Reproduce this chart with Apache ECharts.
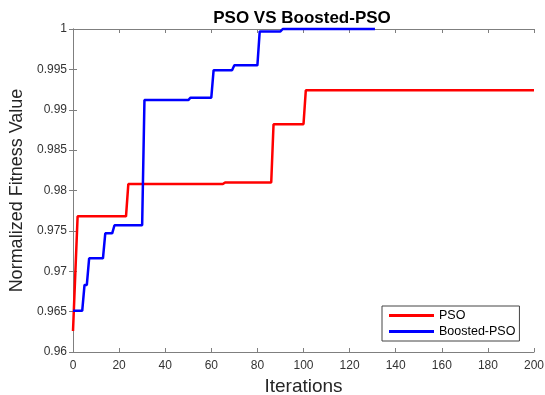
<!DOCTYPE html>
<html>
<head>
<meta charset="utf-8">
<script src="https://cdn.jsdelivr.net/npm/echarts@6/dist/echarts.min.js"></script>
<style>
  html, body { margin: 0; padding: 0; background: #fff; }
  #chart { width: 545px; height: 395px; }
</style>
</head>
<body>
<div id="chart"></div>
<script>
// step points: [iteration, normalized fitness]
const psoPoints = [
  [0, 0.9626], [2, 0.9768], [23, 0.9768], [24, 0.9808], [65, 0.9808],
  [66, 0.981], [86, 0.981], [87, 0.9882], [100, 0.9882], [101, 0.9924],
  [200, 0.9924]
];
const boostedPoints = [
  [0, 0.9651], [4, 0.9651], [5, 0.9683], [6, 0.9683], [7, 0.9716],
  [13, 0.9716], [14, 0.9747], [17, 0.9747], [18, 0.9757], [30, 0.9757],
  [31, 0.9912], [50, 0.9912], [51, 0.9915], [60, 0.9915], [61, 0.9949],
  [69, 0.9949], [70, 0.9955], [80, 0.9955], [81, 0.9997], [90, 0.9997],
  [91, 1.0], [131, 1.0]
];
const seriesNames = ["PSO", "Boosted-PSO"];

const chart = echarts.init(document.getElementById("chart"));

const axisGray = "#7f7f7f";
const font = "Liberation Sans, Arial, sans-serif";

chart.setOption({
  animation: false,
  title: {
    text: "PSO VS Boosted-PSO",
    left: 297,
    textAlign: "center",
    top: 5,
    textStyle: { fontFamily: font, fontSize: 17, fontWeight: "bold", color: "#000" }
  },
  grid: { left: 73, right: 11, top: 29, bottom: 43, outerBoundsMode: "none" },
  legend: {
    data: seriesNames,
    orient: "vertical",
    left: 382,
    top: 306,
    icon: "rect",
    itemWidth: 45,
    itemHeight: 3,
    itemGap: 3,
    padding: [3, 4, 3, 7],
    borderColor: "#444",
    borderWidth: 1,
    backgroundColor: "#fff",
    textStyle: { fontFamily: font, fontSize: 12.5, color: "#000" }
  },
  xAxis: [
    {
      type: "value",
      min: 0, max: 200, interval: 20,
      name: "Iterations",
      nameLocation: "middle",
      nameGap: 21,
      nameTextStyle: { fontFamily: font, fontSize: 19, color: "#262626" },
      axisLine: { lineStyle: { color: axisGray } },
      axisTick: { inside: true, length: 4, lineStyle: { color: axisGray } },
      axisLabel: { fontFamily: font, fontSize: 12, color: "#333", margin: 8 },
      splitLine: { show: false }
    },
    {
      type: "value", position: "top",
      min: 0, max: 200, interval: 20,
      axisLine: { show: true, lineStyle: { color: axisGray } },
      axisTick: { inside: true, length: 4, lineStyle: { color: axisGray } },
      axisLabel: { show: false },
      splitLine: { show: false }
    }
  ],
  yAxis: [
    {
      type: "value",
      min: 0.96, max: 1, interval: 0.005,
      name: "Normalized Fitness Value",
      nameLocation: "middle",
      nameGap: 40,
      nameTextStyle: { fontFamily: font, fontSize: 18, color: "#262626" },
      axisLine: { show: true, lineStyle: { color: axisGray } },
      axisTick: { show: true, inside: true, length: 4, lineStyle: { color: axisGray } },
      axisLabel: {
        fontFamily: font, fontSize: 12, color: "#333", margin: 6,
        formatter: (v) => String(+v.toFixed(3))
      },
      splitLine: { show: false }
    },
    {
      type: "value", position: "right",
      min: 0.96, max: 1, interval: 0.005,
      axisLine: { show: true, lineStyle: { color: axisGray } },
      axisTick: { show: true, inside: true, length: 4, lineStyle: { color: axisGray } },
      axisLabel: { show: false },
      splitLine: { show: false }
    }
  ],
  series: [
    {
      name: seriesNames[0],
      type: "line",
      data: psoPoints,
      symbol: "none",
      color: "#ff0000",
      lineStyle: { width: 2.5 },
      clip: false
    },
    {
      name: seriesNames[1],
      type: "line",
      data: boostedPoints,
      symbol: "none",
      color: "#0000ff",
      lineStyle: { width: 2.5 },
      clip: false
    }
  ]
});
</script>
</body>
</html>
